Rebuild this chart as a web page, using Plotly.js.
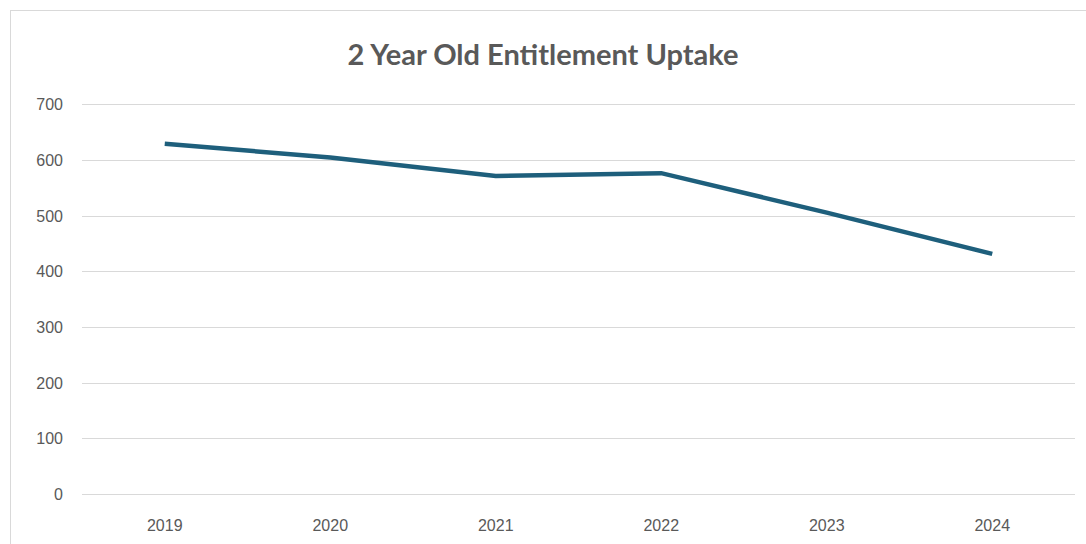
<!DOCTYPE html>
<html><head><meta charset="utf-8">
<script src="https://cdn.plot.ly/plotly-3.0.1.min.js"></script>
<style>
html,body{margin:0;padding:0;background:#fff;}
#frame{position:absolute;left:10px;top:10px;width:1100px;height:560px;border-left:1px solid #d9d9d9;border-top:1px solid #d9d9d9;box-sizing:border-box;}
#chart{position:absolute;left:0;top:0;width:1086px;height:544px;}
</style></head>
<body>
<div id="frame"></div>
<div id="chart"></div>
<script>
const years = ['2019','2020','2021','2022','2023','2024'];
const uptake = [630, 605, 572, 577, 506, 432];
const yTicks = [0,100,200,300,400,500,600,700];

Plotly.newPlot('chart', [{
  x: years, y: uptake, type: 'scatter', mode: 'lines',
  line: {color: '#1e5f7c', width: 4.5},
  hoverinfo: 'skip'
}], {
  width: 1086, height: 544,
  margin: {l: 82, r: 11, t: 103, b: 48},
  paper_bgcolor: 'rgba(0,0,0,0)', plot_bgcolor: 'rgba(0,0,0,0)',
  title: {text: '2 Year Old Entitlement Uptake', x: 0.5, xanchor: 'center', y: 0.9, yanchor: 'middle',
          font: {family: 'Lato, sans-serif', size: 29, color: '#595959', weight: 'bold'}},
  showlegend: false,
  xaxis: {type: 'category', range: [-0.5, 5.5], showgrid: false, zeroline: false,
          showline: false, ticks: '', ticklen: 0, ticklabelstandoff: 18,
          tickfont: {family: '"Liberation Sans", sans-serif', size: 16, color: '#595959'}},
  yaxis: {range: [-3, 703], tickvals: yTicks, ticktext: yTicks.map(String), showgrid: true,
          gridcolor: '#d9d9d9', gridwidth: 1, zeroline: false, showline: false, ticks: '',
          ticklabelstandoff: 18,
          tickfont: {family: '"Liberation Sans", sans-serif', size: 16, color: '#595959'}}
}, {displayModeBar: false, staticPlot: true});
</script>
</body></html>
